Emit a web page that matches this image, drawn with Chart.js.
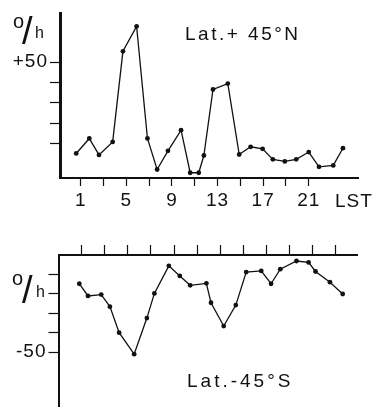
<!DOCTYPE html>
<html lang="en">
<head>
    <meta charset="utf-8">
    <title>Rate by local solar time</title>
    <script src="https://cdn.jsdelivr.net/npm/chart.js"></script>
    <style>
        body { margin: 0; background: #fff; }
        #wrap { position: relative; width: 374px; height: 420px; }
        canvas { position: absolute; left: 0; display: block; }
    </style>
</head>

<body>
    <div id="wrap">
        <canvas id="northChart" width="374" height="210" style="top:0"></canvas>
        <canvas id="southChart" width="374" height="210" style="top:210px"></canvas>
    </div>
    <script>
        // data (hour of local solar time, rate in %/h)
        const northHours = [0.6, 1.75, 2.6, 3.8, 4.7, 5.9, 6.85, 7.7, 8.65, 9.8, 10.6, 11.35, 11.8, 12.6, 13.9, 14.9, 15.9, 16.95, 17.85, 18.9, 19.9, 21.0, 21.9, 23.15, 24.0];
        const northRate = [5.0, 12.4, 4.3, 10.7, 55.4, 67.7, 12.4, -2.9, 6.3, 16.5, -4.5, -4.5, 4.0, 36.6, 39.5, 4.5, 8.3, 7.3, 2.1, 1.1, 2.1, 5.7, -1.6, -0.9, 7.6];

        const southHours = [0.8, 1.55, 2.7, 3.45, 4.25, 5.55, 6.65, 7.3, 8.55, 9.5, 10.4, 11.8, 12.2, 13.3, 14.35, 15.25, 16.55, 17.4, 18.2, 19.6, 20.65, 21.25, 22.5, 23.6];
        const southRate = [-14.8, -21.1, -20.4, -26.6, -40.0, -51.1, -32.5, -19.8, -5.6, -10.8, -15.6, -14.6, -24.6, -36.6, -25.8, -8.8, -8.2, -14.8, -7.3, -3.1, -3.8, -8.5, -14.0, -20.1];

        const northHourTicks = [1, 3, 5, 7, 9, 11, 13, 15, 17, 19, 21];
        const southHourTicks = [1, 3, 5, 7, 9, 11, 13, 15, 17, 19, 21, 23];
        const hourLabels = [1, 5, 9, 13, 17, 21];
        const northRateTicks = [10, 20, 30, 40, 50];
        const southRateTicks = [-10, -20, -30, -40, -50];

        const FONT = '"Liberation Sans", Arial, sans-serif';
        const INK = '#111';

        // free text on the canvas (panel titles, unit, LST)
        function textPlugin(items) {
            return {
                id: 'texts',
                beforeDraw(chart) {
                    chart.ctx.letterSpacing = '1px';
                },
                afterDraw(chart) {
                    const c = chart.ctx;
                    c.save();
                    c.fillStyle = INK;
                    c.textBaseline = 'alphabetic';
                    c.textAlign = 'left';
                    items.forEach(t => {
                        c.font = t.size + 'px ' + FONT;
                        c.letterSpacing = (t.spacing || 0) + 'px';
                        c.fillText(t.text, t.x, t.y);
                    });
                    c.restore();
                }
            };
        }

        function makePanel(id, hours, rate, cfg) {
            const points = hours.map((h, i) => ({ x: h, y: rate[i] }));
            return new Chart(document.getElementById(id), {
                type: 'line',
                data: {
                    datasets: [{
                        data: points,
                        borderColor: INK,
                        borderWidth: 1.3,
                        backgroundColor: INK,
                        pointRadius: 2.4,
                        pointBorderWidth: 0,
                        tension: 0,
                        clip: false
                    }]
                },
                options: {
                    responsive: false,
                    animation: false,
                    devicePixelRatio: 1,
                    layout: { padding: cfg.padding },
                    plugins: { legend: { display: false }, tooltip: { enabled: false } },
                    scales: {
                        x: {
                            type: 'linear',
                            position: cfg.xPos,
                            min: cfg.xMin,
                            max: cfg.xMax,
                            afterBuildTicks: s => { s.ticks = cfg.xTicks.map(v => ({ value: v })); },
                            afterFit: s => { s.height = cfg.xHeight; },
                            ticks: {
                                color: INK,
                                font: { family: FONT, size: 19 },
                                padding: 3,
                                maxRotation: 0,
                                autoSkip: false,
                                callback: v => (cfg.xLabels && hourLabels.includes(v)) ? String(v) : ''
                            },
                            grid: { drawOnChartArea: false, tickLength: cfg.xTickLen, tickColor: INK, tickWidth: 1.2 },
                            border: { color: INK, width: 2 }
                        },
                        y: {
                            min: cfg.yMin,
                            max: cfg.yMax,
                            afterBuildTicks: s => { s.ticks = cfg.yTicks.map(v => ({ value: v })); },
                            afterFit: s => { s.width = cfg.yWidth; },
                            ticks: {
                                color: INK,
                                font: { family: FONT, size: 19 },
                                padding: 2,
                                callback: v => v === 50 ? '+50' : (v === -50 ? '-50' : '')
                            },
                            grid: { drawOnChartArea: false, tickLength: 10, tickColor: INK, tickWidth: 1.2 },
                            border: { color: INK, width: cfg.yBorder }
                        }
                    }
                },
                plugins: [textPlugin(cfg.texts)]
            });
        }

        makePanel('northChart', northHours, northRate, {
            padding: { left: 0, top: 13, right: 16, bottom: 0 },
            xPos: 'bottom', xMin: -0.82, xMax: 25.32, xTicks: northHourTicks, xLabels: true,
            xHeight: 32, xTickLen: 8,
            yMin: -7.1, yMax: 74.1, yTicks: northRateTicks, yWidth: 60, yBorder: 3,
            texts: [
                { text: 'Lat.+ 45°N', x: 185, y: 40, size: 19, spacing: 2.5 },
                { text: 'o', x: 13, y: 28, size: 20 },
                { text: '/', x: 22, y: 44, size: 38 },
                { text: 'h', x: 35, y: 38, size: 16 },
                { text: 'LST', x: 335, y: 207, size: 19, spacing: 1 }
            ]
        });

        makePanel('southChart', southHours, southRate, {
            padding: { left: 0, top: 0, right: 17, bottom: 0 },
            xPos: 'top', xMin: -1.0, xMax: 24.84, xTicks: southHourTicks, xLabels: false,
            xHeight: 45, xTickLen: 10,
            yMin: -78.1, yMax: 0, yTicks: southRateTicks, yWidth: 58.5, yBorder: 2,
            texts: [
                { text: 'Lat.-45°S', x: 187, y: 177, size: 19, spacing: 3 },
                { text: 'o', x: 12, y: 75, size: 20 },
                { text: '/', x: 22, y: 93, size: 38 },
                { text: 'h', x: 36, y: 87, size: 16 }
            ]
        });
    </script>
</body>
</html>
